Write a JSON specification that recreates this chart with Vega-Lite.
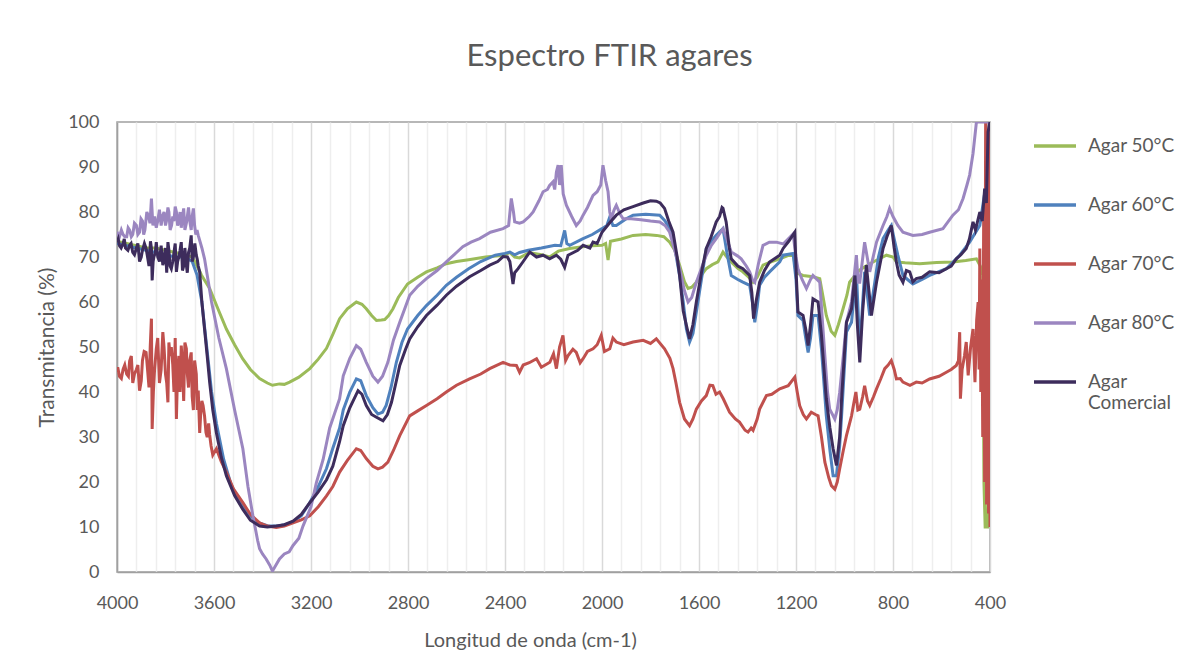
{
"$schema": "https://vega.github.io/schema/vega-lite/v6.json",
"width": 873, "height": 450,
"autosize": "none",
"padding": {"left": 117, "top": 122, "right": 201, "bottom": 88},
"background": "white",
"title": {"text": "Espectro FTIR agares", "font": "Lato", "fontSize": 31, "fontWeight": "normal", "color": "#595959", "anchor": "middle", "dx": 56, "offset": 40},
"config": {"view": {"stroke": "#A0A0A0", "strokeWidth": 1.5}},
"datasets": {"d": [
{"s":"Agar 50°C","w":4000,"t":73.5},{"s":"Agar 50°C","w":3960,"t":73},{"s":"Agar 50°C","w":3920,"t":72.5},{"s":"Agar 50°C","w":3880,"t":72},{"s":"Agar 50°C","w":3840,"t":72},{"s":"Agar 50°C","w":3800,"t":71.5},{"s":"Agar 50°C","w":3760,"t":71},{"s":"Agar 50°C","w":3720,"t":70.5},{"s":"Agar 50°C","w":3690,"t":70},{"s":"Agar 50°C","w":3670,"t":68},{"s":"Agar 50°C","w":3652,"t":66},{"s":"Agar 50°C","w":3618,"t":63},{"s":"Agar 50°C","w":3580,"t":58},{"s":"Agar 50°C","w":3549,"t":54},{"s":"Agar 50°C","w":3515,"t":50.5},{"s":"Agar 50°C","w":3482,"t":47.4},{"s":"Agar 50°C","w":3450,"t":45},{"s":"Agar 50°C","w":3412,"t":43},{"s":"Agar 50°C","w":3380,"t":42},{"s":"Agar 50°C","w":3359,"t":41.5},{"s":"Agar 50°C","w":3330,"t":41.8},{"s":"Agar 50°C","w":3310,"t":41.7},{"s":"Agar 50°C","w":3288,"t":42.2},{"s":"Agar 50°C","w":3250,"t":43.3},{"s":"Agar 50°C","w":3205,"t":45.2},{"s":"Agar 50°C","w":3170,"t":47.3},{"s":"Agar 50°C","w":3136,"t":49.7},{"s":"Agar 50°C","w":3110,"t":52.8},{"s":"Agar 50°C","w":3082,"t":56.3},{"s":"Agar 50°C","w":3050,"t":58.5},{"s":"Agar 50°C","w":3013,"t":60},{"s":"Agar 50°C","w":2990,"t":59.5},{"s":"Agar 50°C","w":2972,"t":58.5},{"s":"Agar 50°C","w":2950,"t":57},{"s":"Agar 50°C","w":2930,"t":55.9},{"s":"Agar 50°C","w":2910,"t":56},{"s":"Agar 50°C","w":2896,"t":56.1},{"s":"Agar 50°C","w":2880,"t":57},{"s":"Agar 50°C","w":2862,"t":58.5},{"s":"Agar 50°C","w":2840,"t":61},{"s":"Agar 50°C","w":2802,"t":64},{"s":"Agar 50°C","w":2760,"t":65.5},{"s":"Agar 50°C","w":2724,"t":66.7},{"s":"Agar 50°C","w":2680,"t":67.6},{"s":"Agar 50°C","w":2642,"t":68.5},{"s":"Agar 50°C","w":2600,"t":69},{"s":"Agar 50°C","w":2550,"t":69.4},{"s":"Agar 50°C","w":2480,"t":70},{"s":"Agar 50°C","w":2404,"t":70.4},{"s":"Agar 50°C","w":2380,"t":71},{"s":"Agar 50°C","w":2360,"t":70},{"s":"Agar 50°C","w":2340,"t":69.8},{"s":"Agar 50°C","w":2300,"t":71},{"s":"Agar 50°C","w":2250,"t":70.5},{"s":"Agar 50°C","w":2216,"t":70},{"s":"Agar 50°C","w":2180,"t":71.3},{"s":"Agar 50°C","w":2133,"t":71.9},{"s":"Agar 50°C","w":2080,"t":72.3},{"s":"Agar 50°C","w":2040,"t":72.5},{"s":"Agar 50°C","w":2000,"t":72.6},{"s":"Agar 50°C","w":1985,"t":73},{"s":"Agar 50°C","w":1975,"t":69.3},{"s":"Agar 50°C","w":1965,"t":73.5},{"s":"Agar 50°C","w":1920,"t":74},{"s":"Agar 50°C","w":1872,"t":74.8},{"s":"Agar 50°C","w":1820,"t":75},{"s":"Agar 50°C","w":1775,"t":74.8},{"s":"Agar 50°C","w":1745,"t":74.5},{"s":"Agar 50°C","w":1721,"t":73.3},{"s":"Agar 50°C","w":1700,"t":71.5},{"s":"Agar 50°C","w":1680,"t":68.2},{"s":"Agar 50°C","w":1660,"t":64.5},{"s":"Agar 50°C","w":1645,"t":63},{"s":"Agar 50°C","w":1630,"t":63.3},{"s":"Agar 50°C","w":1611,"t":64.4},{"s":"Agar 50°C","w":1590,"t":66},{"s":"Agar 50°C","w":1570,"t":67.4},{"s":"Agar 50°C","w":1545,"t":68.3},{"s":"Agar 50°C","w":1522,"t":68.9},{"s":"Agar 50°C","w":1501,"t":71.1},{"s":"Agar 50°C","w":1485,"t":70},{"s":"Agar 50°C","w":1467,"t":68.9},{"s":"Agar 50°C","w":1440,"t":67.5},{"s":"Agar 50°C","w":1419,"t":66.7},{"s":"Agar 50°C","w":1395,"t":65.5},{"s":"Agar 50°C","w":1377,"t":64.4},{"s":"Agar 50°C","w":1360,"t":65.5},{"s":"Agar 50°C","w":1336,"t":68.2},{"s":"Agar 50°C","w":1300,"t":69},{"s":"Agar 50°C","w":1267,"t":69.6},{"s":"Agar 50°C","w":1228,"t":70.4},{"s":"Agar 50°C","w":1210,"t":70.3},{"s":"Agar 50°C","w":1200,"t":66.5},{"s":"Agar 50°C","w":1171,"t":65.9},{"s":"Agar 50°C","w":1130,"t":65.6},{"s":"Agar 50°C","w":1102,"t":65.2},{"s":"Agar 50°C","w":1088,"t":61},{"s":"Agar 50°C","w":1075,"t":57},{"s":"Agar 50°C","w":1055,"t":53.5},{"s":"Agar 50°C","w":1040,"t":52.6},{"s":"Agar 50°C","w":1025,"t":55},{"s":"Agar 50°C","w":1006,"t":58.5},{"s":"Agar 50°C","w":990,"t":61.5},{"s":"Agar 50°C","w":979,"t":64.4},{"s":"Agar 50°C","w":940,"t":67},{"s":"Agar 50°C","w":896,"t":68.5},{"s":"Agar 50°C","w":860,"t":69.5},{"s":"Agar 50°C","w":827,"t":70.4},{"s":"Agar 50°C","w":800,"t":70},{"s":"Agar 50°C","w":786,"t":68.9},{"s":"Agar 50°C","w":750,"t":68.7},{"s":"Agar 50°C","w":690,"t":68.5},{"s":"Agar 50°C","w":620,"t":68.8},{"s":"Agar 50°C","w":553,"t":68.9},{"s":"Agar 50°C","w":500,"t":69.2},{"s":"Agar 50°C","w":456,"t":69.6},{"s":"Agar 50°C","w":440,"t":68},{"s":"Agar 50°C","w":430,"t":66},{"s":"Agar 50°C","w":425,"t":20},{"s":"Agar 50°C","w":420,"t":10},{"s":"Agar 50°C","w":410,"t":10},{"s":"Agar 50°C","w":405,"t":60},{"s":"Agar 50°C","w":400,"t":68},

{"s":"Agar 60°C","w":4000,"t":73},{"s":"Agar 60°C","w":3960,"t":72.5},{"s":"Agar 60°C","w":3920,"t":72},{"s":"Agar 60°C","w":3880,"t":71.5},{"s":"Agar 60°C","w":3840,"t":71},{"s":"Agar 60°C","w":3800,"t":70.5},{"s":"Agar 60°C","w":3760,"t":70},{"s":"Agar 60°C","w":3720,"t":70},{"s":"Agar 60°C","w":3690,"t":69},{"s":"Agar 60°C","w":3670,"t":66},{"s":"Agar 60°C","w":3650,"t":60},{"s":"Agar 60°C","w":3630,"t":50},{"s":"Agar 60°C","w":3610,"t":40},{"s":"Agar 60°C","w":3590,"t":33},{"s":"Agar 60°C","w":3560,"t":25},{"s":"Agar 60°C","w":3530,"t":19.5},{"s":"Agar 60°C","w":3500,"t":16},{"s":"Agar 60°C","w":3460,"t":13},{"s":"Agar 60°C","w":3420,"t":11},{"s":"Agar 60°C","w":3380,"t":10.3},{"s":"Agar 60°C","w":3340,"t":10.2},{"s":"Agar 60°C","w":3300,"t":10.6},{"s":"Agar 60°C","w":3270,"t":11.3},{"s":"Agar 60°C","w":3240,"t":12.5},{"s":"Agar 60°C","w":3205,"t":15.4},{"s":"Agar 60°C","w":3170,"t":19},{"s":"Agar 60°C","w":3136,"t":23},{"s":"Agar 60°C","w":3110,"t":27.5},{"s":"Agar 60°C","w":3082,"t":32},{"s":"Agar 60°C","w":3067,"t":36},{"s":"Agar 60°C","w":3040,"t":40},{"s":"Agar 60°C","w":3013,"t":42.9},{"s":"Agar 60°C","w":2995,"t":42.5},{"s":"Agar 60°C","w":2972,"t":39.2},{"s":"Agar 60°C","w":2945,"t":36.5},{"s":"Agar 60°C","w":2924,"t":35.1},{"s":"Agar 60°C","w":2905,"t":35.5},{"s":"Agar 60°C","w":2890,"t":37},{"s":"Agar 60°C","w":2870,"t":41},{"s":"Agar 60°C","w":2848,"t":46.6},{"s":"Agar 60°C","w":2825,"t":51},{"s":"Agar 60°C","w":2802,"t":54},{"s":"Agar 60°C","w":2760,"t":57},{"s":"Agar 60°C","w":2724,"t":59.2},{"s":"Agar 60°C","w":2680,"t":61.5},{"s":"Agar 60°C","w":2642,"t":63.7},{"s":"Agar 60°C","w":2600,"t":65.5},{"s":"Agar 60°C","w":2550,"t":67.4},{"s":"Agar 60°C","w":2500,"t":69},{"s":"Agar 60°C","w":2440,"t":70.4},{"s":"Agar 60°C","w":2400,"t":70.8},{"s":"Agar 60°C","w":2380,"t":71.1},{"s":"Agar 60°C","w":2360,"t":70.5},{"s":"Agar 60°C","w":2340,"t":71},{"s":"Agar 60°C","w":2304,"t":71.5},{"s":"Agar 60°C","w":2250,"t":72},{"s":"Agar 60°C","w":2194,"t":72.6},{"s":"Agar 60°C","w":2170,"t":72.5},{"s":"Agar 60°C","w":2154,"t":75.9},{"s":"Agar 60°C","w":2145,"t":73},{"s":"Agar 60°C","w":2133,"t":72.6},{"s":"Agar 60°C","w":2078,"t":74.1},{"s":"Agar 60°C","w":2040,"t":75},{"s":"Agar 60°C","w":2000,"t":76.3},{"s":"Agar 60°C","w":1980,"t":77},{"s":"Agar 60°C","w":1968,"t":78.9},{"s":"Agar 60°C","w":1955,"t":77},{"s":"Agar 60°C","w":1941,"t":77},{"s":"Agar 60°C","w":1900,"t":78.5},{"s":"Agar 60°C","w":1872,"t":79.3},{"s":"Agar 60°C","w":1820,"t":79.5},{"s":"Agar 60°C","w":1762,"t":79.3},{"s":"Agar 60°C","w":1740,"t":78},{"s":"Agar 60°C","w":1721,"t":76.3},{"s":"Agar 60°C","w":1700,"t":72},{"s":"Agar 60°C","w":1680,"t":65.9},{"s":"Agar 60°C","w":1665,"t":60},{"s":"Agar 60°C","w":1652,"t":54},{"s":"Agar 60°C","w":1639,"t":51.1},{"s":"Agar 60°C","w":1625,"t":53},{"s":"Agar 60°C","w":1611,"t":57.8},{"s":"Agar 60°C","w":1590,"t":65},{"s":"Agar 60°C","w":1570,"t":71.9},{"s":"Agar 60°C","w":1550,"t":73.5},{"s":"Agar 60°C","w":1529,"t":74.8},{"s":"Agar 60°C","w":1501,"t":76.3},{"s":"Agar 60°C","w":1485,"t":71},{"s":"Agar 60°C","w":1467,"t":65.9},{"s":"Agar 60°C","w":1440,"t":65},{"s":"Agar 60°C","w":1419,"t":64.4},{"s":"Agar 60°C","w":1391,"t":63.7},{"s":"Agar 60°C","w":1380,"t":60},{"s":"Agar 60°C","w":1370,"t":55.5},{"s":"Agar 60°C","w":1360,"t":59},{"s":"Agar 60°C","w":1350,"t":63.7},{"s":"Agar 60°C","w":1330,"t":65.5},{"s":"Agar 60°C","w":1309,"t":66.7},{"s":"Agar 60°C","w":1267,"t":68.9},{"s":"Agar 60°C","w":1253,"t":70.4},{"s":"Agar 60°C","w":1212,"t":70.8},{"s":"Agar 60°C","w":1200,"t":65},{"s":"Agar 60°C","w":1192,"t":57},{"s":"Agar 60°C","w":1171,"t":55.9},{"s":"Agar 60°C","w":1160,"t":52},{"s":"Agar 60°C","w":1150,"t":48.8},{"s":"Agar 60°C","w":1140,"t":52},{"s":"Agar 60°C","w":1130,"t":57},{"s":"Agar 60°C","w":1109,"t":57},{"s":"Agar 60°C","w":1095,"t":49.6},{"s":"Agar 60°C","w":1075,"t":34.7},{"s":"Agar 60°C","w":1060,"t":27},{"s":"Agar 60°C","w":1047,"t":21.4},{"s":"Agar 60°C","w":1033,"t":21.4},{"s":"Agar 60°C","w":1020,"t":28},{"s":"Agar 60°C","w":1012,"t":34.7},{"s":"Agar 60°C","w":992,"t":53.3},{"s":"Agar 60°C","w":971,"t":55.5},{"s":"Agar 60°C","w":951,"t":66.7},{"s":"Agar 60°C","w":937,"t":49.6},{"s":"Agar 60°C","w":917,"t":66.7},{"s":"Agar 60°C","w":896,"t":57},{"s":"Agar 60°C","w":875,"t":64.4},{"s":"Agar 60°C","w":860,"t":70},{"s":"Agar 60°C","w":841,"t":74.1},{"s":"Agar 60°C","w":820,"t":76},{"s":"Agar 60°C","w":807,"t":77},{"s":"Agar 60°C","w":795,"t":74},{"s":"Agar 60°C","w":780,"t":70.4},{"s":"Agar 60°C","w":759,"t":65.9},{"s":"Agar 60°C","w":740,"t":65},{"s":"Agar 60°C","w":718,"t":64},{"s":"Agar 60°C","w":680,"t":65},{"s":"Agar 60°C","w":649,"t":65.9},{"s":"Agar 60°C","w":580,"t":67.4},{"s":"Agar 60°C","w":525,"t":70.4},{"s":"Agar 60°C","w":484,"t":73.3},{"s":"Agar 60°C","w":442,"t":77},{"s":"Agar 60°C","w":415,"t":86.7},{"s":"Agar 60°C","w":403,"t":100},{"s":"Agar 60°C","w":400,"t":100},

{"s":"Agar 70°C","w":4000,"t":44.4},{"s":"Agar 70°C","w":3990,"t":43.5},{"s":"Agar 70°C","w":3975,"t":45},{"s":"Agar 70°C","w":3960,"t":44},{"s":"Agar 70°C","w":3948,"t":46.9},{"s":"Agar 70°C","w":3935,"t":42},{"s":"Agar 70°C","w":3920,"t":45},{"s":"Agar 70°C","w":3907,"t":40.3},{"s":"Agar 70°C","w":3895,"t":47},{"s":"Agar 70°C","w":3880,"t":48.8},{"s":"Agar 70°C","w":3868,"t":41},{"s":"Agar 70°C","w":3858,"t":56.3},{"s":"Agar 70°C","w":3855,"t":31.8},{"s":"Agar 70°C","w":3845,"t":45},{"s":"Agar 70°C","w":3838,"t":49.6},{"s":"Agar 70°C","w":3825,"t":42},{"s":"Agar 70°C","w":3811,"t":53.3},{"s":"Agar 70°C","w":3800,"t":44},{"s":"Agar 70°C","w":3790,"t":37.7},{"s":"Agar 70°C","w":3781,"t":48},{"s":"Agar 70°C","w":3776,"t":50},{"s":"Agar 70°C","w":3765,"t":40},{"s":"Agar 70°C","w":3755,"t":34},{"s":"Agar 70°C","w":3745,"t":48},{"s":"Agar 70°C","w":3735,"t":50.3},{"s":"Agar 70°C","w":3725,"t":38},{"s":"Agar 70°C","w":3714,"t":49.6},{"s":"Agar 70°C","w":3705,"t":41},{"s":"Agar 70°C","w":3694,"t":48.8},{"s":"Agar 70°C","w":3685,"t":36},{"s":"Agar 70°C","w":3673,"t":44},{"s":"Agar 70°C","w":3665,"t":40.3},{"s":"Agar 70°C","w":3659,"t":30.9},{"s":"Agar 70°C","w":3650,"t":38},{"s":"Agar 70°C","w":3639,"t":34.7},{"s":"Agar 70°C","w":3628,"t":30},{"s":"Agar 70°C","w":3618,"t":30.5},{"s":"Agar 70°C","w":3605,"t":26},{"s":"Agar 70°C","w":3590,"t":27.4},{"s":"Agar 70°C","w":3570,"t":24.5},{"s":"Agar 70°C","w":3549,"t":22.2},{"s":"Agar 70°C","w":3520,"t":18.5},{"s":"Agar 70°C","w":3481,"t":15.4},{"s":"Agar 70°C","w":3450,"t":12.8},{"s":"Agar 70°C","w":3412,"t":10.9},{"s":"Agar 70°C","w":3380,"t":10.2},{"s":"Agar 70°C","w":3343,"t":9.9},{"s":"Agar 70°C","w":3310,"t":10.2},{"s":"Agar 70°C","w":3274,"t":10.9},{"s":"Agar 70°C","w":3240,"t":11.6},{"s":"Agar 70°C","w":3205,"t":12.5},{"s":"Agar 70°C","w":3170,"t":14.5},{"s":"Agar 70°C","w":3136,"t":16.9},{"s":"Agar 70°C","w":3110,"t":19},{"s":"Agar 70°C","w":3082,"t":22.2},{"s":"Agar 70°C","w":3050,"t":24.8},{"s":"Agar 70°C","w":3013,"t":27.4},{"s":"Agar 70°C","w":2995,"t":27},{"s":"Agar 70°C","w":2972,"t":25.2},{"s":"Agar 70°C","w":2945,"t":23.5},{"s":"Agar 70°C","w":2924,"t":22.9},{"s":"Agar 70°C","w":2905,"t":23.3},{"s":"Agar 70°C","w":2883,"t":24.4},{"s":"Agar 70°C","w":2860,"t":27},{"s":"Agar 70°C","w":2834,"t":30.3},{"s":"Agar 70°C","w":2793,"t":34.7},{"s":"Agar 70°C","w":2760,"t":35.8},{"s":"Agar 70°C","w":2724,"t":37},{"s":"Agar 70°C","w":2680,"t":38.5},{"s":"Agar 70°C","w":2642,"t":40},{"s":"Agar 70°C","w":2600,"t":41.5},{"s":"Agar 70°C","w":2546,"t":42.9},{"s":"Agar 70°C","w":2500,"t":44},{"s":"Agar 70°C","w":2463,"t":45.2},{"s":"Agar 70°C","w":2408,"t":46.6},{"s":"Agar 70°C","w":2380,"t":46},{"s":"Agar 70°C","w":2353,"t":45.9},{"s":"Agar 70°C","w":2340,"t":44.4},{"s":"Agar 70°C","w":2325,"t":46},{"s":"Agar 70°C","w":2300,"t":46.5},{"s":"Agar 70°C","w":2270,"t":47.4},{"s":"Agar 70°C","w":2250,"t":45.5},{"s":"Agar 70°C","w":2215,"t":46.6},{"s":"Agar 70°C","w":2200,"t":48.5},{"s":"Agar 70°C","w":2188,"t":45.2},{"s":"Agar 70°C","w":2175,"t":50},{"s":"Agar 70°C","w":2161,"t":52.6},{"s":"Agar 70°C","w":2150,"t":47},{"s":"Agar 70°C","w":2140,"t":48.1},{"s":"Agar 70°C","w":2120,"t":49.5},{"s":"Agar 70°C","w":2106,"t":48.8},{"s":"Agar 70°C","w":2090,"t":46.5},{"s":"Agar 70°C","w":2078,"t":47.4},{"s":"Agar 70°C","w":2060,"t":49},{"s":"Agar 70°C","w":2037,"t":49.6},{"s":"Agar 70°C","w":2020,"t":50.5},{"s":"Agar 70°C","w":2003,"t":52.6},{"s":"Agar 70°C","w":1990,"t":49},{"s":"Agar 70°C","w":1968,"t":49.6},{"s":"Agar 70°C","w":1955,"t":52},{"s":"Agar 70°C","w":1941,"t":51.1},{"s":"Agar 70°C","w":1910,"t":50.5},{"s":"Agar 70°C","w":1872,"t":51.1},{"s":"Agar 70°C","w":1830,"t":51.5},{"s":"Agar 70°C","w":1800,"t":50.8},{"s":"Agar 70°C","w":1776,"t":51.8},{"s":"Agar 70°C","w":1742,"t":49.6},{"s":"Agar 70°C","w":1720,"t":47.5},{"s":"Agar 70°C","w":1707,"t":45.2},{"s":"Agar 70°C","w":1695,"t":42},{"s":"Agar 70°C","w":1680,"t":37.7},{"s":"Agar 70°C","w":1660,"t":34},{"s":"Agar 70°C","w":1639,"t":32.5},{"s":"Agar 70°C","w":1625,"t":34},{"s":"Agar 70°C","w":1611,"t":36.2},{"s":"Agar 70°C","w":1590,"t":38},{"s":"Agar 70°C","w":1570,"t":39.2},{"s":"Agar 70°C","w":1555,"t":41.5},{"s":"Agar 70°C","w":1543,"t":41.4},{"s":"Agar 70°C","w":1530,"t":39.5},{"s":"Agar 70°C","w":1515,"t":40},{"s":"Agar 70°C","w":1500,"t":38.5},{"s":"Agar 70°C","w":1474,"t":35.5},{"s":"Agar 70°C","w":1450,"t":34},{"s":"Agar 70°C","w":1433,"t":33.3},{"s":"Agar 70°C","w":1410,"t":31.5},{"s":"Agar 70°C","w":1398,"t":31.1},{"s":"Agar 70°C","w":1385,"t":32},{"s":"Agar 70°C","w":1377,"t":31.5},{"s":"Agar 70°C","w":1360,"t":34},{"s":"Agar 70°C","w":1350,"t":36.2},{"s":"Agar 70°C","w":1322,"t":39.2},{"s":"Agar 70°C","w":1300,"t":39.5},{"s":"Agar 70°C","w":1267,"t":40.7},{"s":"Agar 70°C","w":1232,"t":41.4},{"s":"Agar 70°C","w":1205,"t":43.3},{"s":"Agar 70°C","w":1195,"t":40},{"s":"Agar 70°C","w":1185,"t":37},{"s":"Agar 70°C","w":1170,"t":35},{"s":"Agar 70°C","w":1157,"t":34},{"s":"Agar 70°C","w":1137,"t":35.5},{"s":"Agar 70°C","w":1120,"t":35},{"s":"Agar 70°C","w":1109,"t":34.7},{"s":"Agar 70°C","w":1095,"t":30},{"s":"Agar 70°C","w":1081,"t":24.4},{"s":"Agar 70°C","w":1065,"t":21},{"s":"Agar 70°C","w":1054,"t":19.2},{"s":"Agar 70°C","w":1040,"t":18.4},{"s":"Agar 70°C","w":1030,"t":20},{"s":"Agar 70°C","w":1020,"t":22.9},{"s":"Agar 70°C","w":1005,"t":27},{"s":"Agar 70°C","w":992,"t":30.3},{"s":"Agar 70°C","w":971,"t":34.7},{"s":"Agar 70°C","w":960,"t":38},{"s":"Agar 70°C","w":953,"t":40},{"s":"Agar 70°C","w":945,"t":36},{"s":"Agar 70°C","w":937,"t":36.2},{"s":"Agar 70°C","w":925,"t":39},{"s":"Agar 70°C","w":917,"t":41.4},{"s":"Agar 70°C","w":905,"t":38},{"s":"Agar 70°C","w":896,"t":37},{"s":"Agar 70°C","w":880,"t":39},{"s":"Agar 70°C","w":868,"t":40.7},{"s":"Agar 70°C","w":850,"t":43},{"s":"Agar 70°C","w":834,"t":45.2},{"s":"Agar 70°C","w":820,"t":46},{"s":"Agar 70°C","w":807,"t":47},{"s":"Agar 70°C","w":795,"t":45},{"s":"Agar 70°C","w":786,"t":42.9},{"s":"Agar 70°C","w":770,"t":43},{"s":"Agar 70°C","w":759,"t":42.2},{"s":"Agar 70°C","w":730,"t":41.5},{"s":"Agar 70°C","w":704,"t":42.2},{"s":"Agar 70°C","w":680,"t":42},{"s":"Agar 70°C","w":649,"t":42.9},{"s":"Agar 70°C","w":610,"t":43.5},{"s":"Agar 70°C","w":580,"t":44.4},{"s":"Agar 70°C","w":560,"t":45},{"s":"Agar 70°C","w":539,"t":45.9},{"s":"Agar 70°C","w":530,"t":47},{"s":"Agar 70°C","w":525,"t":53.3},{"s":"Agar 70°C","w":522,"t":38.5},{"s":"Agar 70°C","w":515,"t":45},{"s":"Agar 70°C","w":505,"t":48.1},{"s":"Agar 70°C","w":498,"t":51.1},{"s":"Agar 70°C","w":490,"t":43.7},{"s":"Agar 70°C","w":480,"t":50},{"s":"Agar 70°C","w":470,"t":54},{"s":"Agar 70°C","w":462,"t":42.2},{"s":"Agar 70°C","w":455,"t":56},{"s":"Agar 70°C","w":449,"t":60},{"s":"Agar 70°C","w":445,"t":45},{"s":"Agar 70°C","w":442,"t":71.9},{"s":"Agar 70°C","w":438,"t":40},{"s":"Agar 70°C","w":434,"t":65},{"s":"Agar 70°C","w":430,"t":30},{"s":"Agar 70°C","w":426,"t":80},{"s":"Agar 70°C","w":422,"t":20},{"s":"Agar 70°C","w":418,"t":100},{"s":"Agar 70°C","w":414,"t":15},{"s":"Agar 70°C","w":410,"t":90},{"s":"Agar 70°C","w":406,"t":13},{"s":"Agar 70°C","w":403,"t":100},{"s":"Agar 70°C","w":400,"t":10},
{"s":"Agar 70°C","w":3997,"t":45.5},{"s":"Agar 70°C","w":3982,"t":43},{"s":"Agar 70°C","w":3968,"t":46},{"s":"Agar 70°C","w":3953,"t":43.5},{"s":"Agar 70°C","w":3941,"t":48},{"s":"Agar 70°C","w":3928,"t":44},{"s":"Agar 70°C","w":3914,"t":46},{"s":"Agar 70°C","w":3900,"t":42.5},{"s":"Agar 70°C","w":3888,"t":49},{"s":"Agar 70°C","w":3874,"t":45},{"s":"Agar 70°C","w":3863,"t":50},{"s":"Agar 70°C","w":3850,"t":40},{"s":"Agar 70°C","w":3832,"t":52},{"s":"Agar 70°C","w":3818,"t":45},{"s":"Agar 70°C","w":3806,"t":50},{"s":"Agar 70°C","w":3795,"t":42},{"s":"Agar 70°C","w":3786,"t":51},{"s":"Agar 70°C","w":3770,"t":46},{"s":"Agar 70°C","w":3760,"t":52},{"s":"Agar 70°C","w":3750,"t":45},{"s":"Agar 70°C","w":3740,"t":40},{"s":"Agar 70°C","w":3730,"t":46},{"s":"Agar 70°C","w":3720,"t":51},{"s":"Agar 70°C","w":3710,"t":44},{"s":"Agar 70°C","w":3700,"t":47},{"s":"Agar 70°C","w":3690,"t":39},{"s":"Agar 70°C","w":3680,"t":47},{"s":"Agar 70°C","w":3669,"t":36},{"s":"Agar 70°C","w":3655,"t":35},{"s":"Agar 70°C","w":3645,"t":37},{"s":"Agar 70°C","w":3633,"t":31},{"s":"Agar 70°C","w":3622,"t":33},{"s":"Agar 70°C","w":3612,"t":28},

{"s":"Agar 80°C","w":4000,"t":75.6},{"s":"Agar 80°C","w":3990,"t":74.5},{"s":"Agar 80°C","w":3975,"t":75},{"s":"Agar 80°C","w":3960,"t":74.5},{"s":"Agar 80°C","w":3948,"t":76},{"s":"Agar 80°C","w":3935,"t":75},{"s":"Agar 80°C","w":3920,"t":77},{"s":"Agar 80°C","w":3907,"t":75.5},{"s":"Agar 80°C","w":3895,"t":78},{"s":"Agar 80°C","w":3885,"t":76},{"s":"Agar 80°C","w":3870,"t":79},{"s":"Agar 80°C","w":3858,"t":83},{"s":"Agar 80°C","w":3852,"t":77},{"s":"Agar 80°C","w":3845,"t":79},{"s":"Agar 80°C","w":3838,"t":76.5},{"s":"Agar 80°C","w":3825,"t":80.5},{"s":"Agar 80°C","w":3811,"t":79.3},{"s":"Agar 80°C","w":3800,"t":77},{"s":"Agar 80°C","w":3790,"t":81},{"s":"Agar 80°C","w":3781,"t":76},{"s":"Agar 80°C","w":3770,"t":79},{"s":"Agar 80°C","w":3760,"t":81.2},{"s":"Agar 80°C","w":3750,"t":77},{"s":"Agar 80°C","w":3740,"t":80},{"s":"Agar 80°C","w":3735,"t":76.5},{"s":"Agar 80°C","w":3725,"t":80.8},{"s":"Agar 80°C","w":3714,"t":77.5},{"s":"Agar 80°C","w":3705,"t":81},{"s":"Agar 80°C","w":3694,"t":76},{"s":"Agar 80°C","w":3685,"t":80.8},{"s":"Agar 80°C","w":3675,"t":75},{"s":"Agar 80°C","w":3665,"t":74.8},{"s":"Agar 80°C","w":3650,"t":72},{"s":"Agar 80°C","w":3639,"t":69.6},{"s":"Agar 80°C","w":3625,"t":65},{"s":"Agar 80°C","w":3610,"t":60},{"s":"Agar 80°C","w":3580,"t":52},{"s":"Agar 80°C","w":3549,"t":45.2},{"s":"Agar 80°C","w":3515,"t":36},{"s":"Agar 80°C","w":3481,"t":27.4},{"s":"Agar 80°C","w":3460,"t":19},{"s":"Agar 80°C","w":3440,"t":12.6},{"s":"Agar 80°C","w":3420,"t":7},{"s":"Agar 80°C","w":3412,"t":5.2},{"s":"Agar 80°C","w":3400,"t":4},{"s":"Agar 80°C","w":3385,"t":2.9},{"s":"Agar 80°C","w":3370,"t":1.5},{"s":"Agar 80°C","w":3359,"t":0.2},{"s":"Agar 80°C","w":3345,"t":1.5},{"s":"Agar 80°C","w":3330,"t":2.9},{"s":"Agar 80°C","w":3310,"t":4},{"s":"Agar 80°C","w":3290,"t":4.5},{"s":"Agar 80°C","w":3274,"t":5.9},{"s":"Agar 80°C","w":3250,"t":7.5},{"s":"Agar 80°C","w":3233,"t":10.2},{"s":"Agar 80°C","w":3200,"t":14.5},{"s":"Agar 80°C","w":3178,"t":19.8},{"s":"Agar 80°C","w":3150,"t":25},{"s":"Agar 80°C","w":3123,"t":32},{"s":"Agar 80°C","w":3082,"t":38.5},{"s":"Agar 80°C","w":3067,"t":43.6},{"s":"Agar 80°C","w":3040,"t":47.5},{"s":"Agar 80°C","w":3013,"t":50.3},{"s":"Agar 80°C","w":2995,"t":49.5},{"s":"Agar 80°C","w":2972,"t":46.6},{"s":"Agar 80°C","w":2945,"t":43.5},{"s":"Agar 80°C","w":2924,"t":42.2},{"s":"Agar 80°C","w":2905,"t":43.5},{"s":"Agar 80°C","w":2883,"t":46.6},{"s":"Agar 80°C","w":2860,"t":51.5},{"s":"Agar 80°C","w":2834,"t":55.5},{"s":"Agar 80°C","w":2793,"t":61.5},{"s":"Agar 80°C","w":2760,"t":63.5},{"s":"Agar 80°C","w":2724,"t":65.2},{"s":"Agar 80°C","w":2680,"t":67},{"s":"Agar 80°C","w":2642,"t":68.9},{"s":"Agar 80°C","w":2600,"t":71},{"s":"Agar 80°C","w":2574,"t":72.3},{"s":"Agar 80°C","w":2540,"t":73.3},{"s":"Agar 80°C","w":2505,"t":74.1},{"s":"Agar 80°C","w":2460,"t":75.5},{"s":"Agar 80°C","w":2408,"t":76.3},{"s":"Agar 80°C","w":2385,"t":77},{"s":"Agar 80°C","w":2374,"t":83},{"s":"Agar 80°C","w":2365,"t":80},{"s":"Agar 80°C","w":2360,"t":77.8},{"s":"Agar 80°C","w":2340,"t":77.5},{"s":"Agar 80°C","w":2325,"t":77.8},{"s":"Agar 80°C","w":2300,"t":79},{"s":"Agar 80°C","w":2284,"t":80},{"s":"Agar 80°C","w":2260,"t":82.5},{"s":"Agar 80°C","w":2243,"t":84.5},{"s":"Agar 80°C","w":2225,"t":85},{"s":"Agar 80°C","w":2216,"t":85.9},{"s":"Agar 80°C","w":2202,"t":86.7},{"s":"Agar 80°C","w":2195,"t":85},{"s":"Agar 80°C","w":2188,"t":88.9},{"s":"Agar 80°C","w":2181,"t":90.4},{"s":"Agar 80°C","w":2175,"t":86},{"s":"Agar 80°C","w":2168,"t":90.4},{"s":"Agar 80°C","w":2160,"t":84},{"s":"Agar 80°C","w":2147,"t":81.5},{"s":"Agar 80°C","w":2125,"t":79},{"s":"Agar 80°C","w":2106,"t":77},{"s":"Agar 80°C","w":2090,"t":78},{"s":"Agar 80°C","w":2078,"t":79.3},{"s":"Agar 80°C","w":2060,"t":81},{"s":"Agar 80°C","w":2037,"t":83.7},{"s":"Agar 80°C","w":2020,"t":84.5},{"s":"Agar 80°C","w":2005,"t":86},{"s":"Agar 80°C","w":1996,"t":90.4},{"s":"Agar 80°C","w":1985,"t":87},{"s":"Agar 80°C","w":1975,"t":84.5},{"s":"Agar 80°C","w":1968,"t":80},{"s":"Agar 80°C","w":1962,"t":78.5},{"s":"Agar 80°C","w":1950,"t":80.5},{"s":"Agar 80°C","w":1941,"t":81.5},{"s":"Agar 80°C","w":1925,"t":79.5},{"s":"Agar 80°C","w":1913,"t":78.5},{"s":"Agar 80°C","w":1880,"t":78.5},{"s":"Agar 80°C","w":1840,"t":78.3},{"s":"Agar 80°C","w":1800,"t":78},{"s":"Agar 80°C","w":1762,"t":77.8},{"s":"Agar 80°C","w":1740,"t":77},{"s":"Agar 80°C","w":1721,"t":75.5},{"s":"Agar 80°C","w":1700,"t":71.5},{"s":"Agar 80°C","w":1680,"t":67.4},{"s":"Agar 80°C","w":1660,"t":62.5},{"s":"Agar 80°C","w":1645,"t":60},{"s":"Agar 80°C","w":1630,"t":61},{"s":"Agar 80°C","w":1611,"t":64.4},{"s":"Agar 80°C","w":1590,"t":67.5},{"s":"Agar 80°C","w":1570,"t":70.4},{"s":"Agar 80°C","w":1550,"t":72.5},{"s":"Agar 80°C","w":1529,"t":74.1},{"s":"Agar 80°C","w":1501,"t":76.3},{"s":"Agar 80°C","w":1485,"t":74},{"s":"Agar 80°C","w":1467,"t":71.1},{"s":"Agar 80°C","w":1440,"t":70.2},{"s":"Agar 80°C","w":1426,"t":69.6},{"s":"Agar 80°C","w":1405,"t":68},{"s":"Agar 80°C","w":1391,"t":66.7},{"s":"Agar 80°C","w":1380,"t":65},{"s":"Agar 80°C","w":1370,"t":64.4},{"s":"Agar 80°C","w":1355,"t":68.5},{"s":"Agar 80°C","w":1336,"t":72.6},{"s":"Agar 80°C","w":1310,"t":73.3},{"s":"Agar 80°C","w":1281,"t":73.3},{"s":"Agar 80°C","w":1253,"t":72.9},{"s":"Agar 80°C","w":1212,"t":75.1},{"s":"Agar 80°C","w":1200,"t":70},{"s":"Agar 80°C","w":1192,"t":67.4},{"s":"Agar 80°C","w":1175,"t":65},{"s":"Agar 80°C","w":1157,"t":63},{"s":"Agar 80°C","w":1140,"t":65},{"s":"Agar 80°C","w":1130,"t":65.9},{"s":"Agar 80°C","w":1102,"t":64.4},{"s":"Agar 80°C","w":1090,"t":55},{"s":"Agar 80°C","w":1081,"t":48.1},{"s":"Agar 80°C","w":1070,"t":40},{"s":"Agar 80°C","w":1061,"t":36.2},{"s":"Agar 80°C","w":1040,"t":34},{"s":"Agar 80°C","w":1030,"t":36},{"s":"Agar 80°C","w":1020,"t":39.9},{"s":"Agar 80°C","w":1005,"t":48},{"s":"Agar 80°C","w":992,"t":55.5},{"s":"Agar 80°C","w":971,"t":60},{"s":"Agar 80°C","w":951,"t":70.4},{"s":"Agar 80°C","w":944,"t":64.4},{"s":"Agar 80°C","w":937,"t":64.4},{"s":"Agar 80°C","w":917,"t":73.3},{"s":"Agar 80°C","w":896,"t":66.7},{"s":"Agar 80°C","w":868,"t":73.3},{"s":"Agar 80°C","w":841,"t":77},{"s":"Agar 80°C","w":825,"t":79},{"s":"Agar 80°C","w":814,"t":80.8},{"s":"Agar 80°C","w":800,"t":79},{"s":"Agar 80°C","w":780,"t":77},{"s":"Agar 80°C","w":759,"t":75.5},{"s":"Agar 80°C","w":718,"t":74.8},{"s":"Agar 80°C","w":680,"t":75},{"s":"Agar 80°C","w":649,"t":75.5},{"s":"Agar 80°C","w":594,"t":76.3},{"s":"Agar 80°C","w":553,"t":79.3},{"s":"Agar 80°C","w":530,"t":80.5},{"s":"Agar 80°C","w":511,"t":83},{"s":"Agar 80°C","w":495,"t":86},{"s":"Agar 80°C","w":484,"t":88.2},{"s":"Agar 80°C","w":470,"t":93},{"s":"Agar 80°C","w":456,"t":100},{"s":"Agar 80°C","w":400,"t":100},
{"s":"Agar 80°C","w":3995,"t":75},{"s":"Agar 80°C","w":3982,"t":76},{"s":"Agar 80°C","w":3968,"t":74.5},{"s":"Agar 80°C","w":3954,"t":76.5},{"s":"Agar 80°C","w":3941,"t":74.5},{"s":"Agar 80°C","w":3928,"t":77.5},{"s":"Agar 80°C","w":3914,"t":75},{"s":"Agar 80°C","w":3901,"t":78.5},{"s":"Agar 80°C","w":3890,"t":75},{"s":"Agar 80°C","w":3877,"t":80},{"s":"Agar 80°C","w":3864,"t":77.5},{"s":"Agar 80°C","w":3832,"t":78},{"s":"Agar 80°C","w":3818,"t":77},{"s":"Agar 80°C","w":3806,"t":80},{"s":"Agar 80°C","w":3796,"t":78},{"s":"Agar 80°C","w":3786,"t":80},{"s":"Agar 80°C","w":3775,"t":77},{"s":"Agar 80°C","w":3765,"t":78},{"s":"Agar 80°C","w":3755,"t":80},{"s":"Agar 80°C","w":3745,"t":78},{"s":"Agar 80°C","w":3730,"t":79},{"s":"Agar 80°C","w":3720,"t":76},{"s":"Agar 80°C","w":3710,"t":79},{"s":"Agar 80°C","w":3700,"t":78},{"s":"Agar 80°C","w":3690,"t":79},{"s":"Agar 80°C","w":3680,"t":77},{"s":"Agar 80°C","w":3670,"t":76},

{"s":"Agar Comercial","w":4000,"t":73.3},{"s":"Agar Comercial","w":3990,"t":72.5},{"s":"Agar Comercial","w":3975,"t":73},{"s":"Agar Comercial","w":3965,"t":72},{"s":"Agar Comercial","w":3948,"t":72.6},{"s":"Agar Comercial","w":3935,"t":71},{"s":"Agar Comercial","w":3920,"t":72},{"s":"Agar Comercial","w":3907,"t":69},{"s":"Agar Comercial","w":3895,"t":71.5},{"s":"Agar Comercial","w":3880,"t":71.9},{"s":"Agar Comercial","w":3868,"t":68},{"s":"Agar Comercial","w":3858,"t":72},{"s":"Agar Comercial","w":3855,"t":64.8},{"s":"Agar Comercial","w":3848,"t":70},{"s":"Agar Comercial","w":3838,"t":73.3},{"s":"Agar Comercial","w":3825,"t":69},{"s":"Agar Comercial","w":3811,"t":68.2},{"s":"Agar Comercial","w":3800,"t":72},{"s":"Agar Comercial","w":3790,"t":73.3},{"s":"Agar Comercial","w":3781,"t":68},{"s":"Agar Comercial","w":3776,"t":67.4},{"s":"Agar Comercial","w":3765,"t":71},{"s":"Agar Comercial","w":3755,"t":66.7},{"s":"Agar Comercial","w":3745,"t":70},{"s":"Agar Comercial","w":3735,"t":73.3},{"s":"Agar Comercial","w":3725,"t":68},{"s":"Agar Comercial","w":3714,"t":68.2},{"s":"Agar Comercial","w":3705,"t":71},{"s":"Agar Comercial","w":3694,"t":74.8},{"s":"Agar Comercial","w":3685,"t":70},{"s":"Agar Comercial","w":3673,"t":70.4},{"s":"Agar Comercial","w":3665,"t":68},{"s":"Agar Comercial","w":3659,"t":66.7},{"s":"Agar Comercial","w":3650,"t":60},{"s":"Agar Comercial","w":3639,"t":54},{"s":"Agar Comercial","w":3628,"t":48},{"s":"Agar Comercial","w":3618,"t":42.2},{"s":"Agar Comercial","w":3605,"t":36},{"s":"Agar Comercial","w":3590,"t":30.9},{"s":"Agar Comercial","w":3570,"t":25.5},{"s":"Agar Comercial","w":3549,"t":21.4},{"s":"Agar Comercial","w":3515,"t":17},{"s":"Agar Comercial","w":3481,"t":13.9},{"s":"Agar Comercial","w":3450,"t":11.5},{"s":"Agar Comercial","w":3412,"t":10.2},{"s":"Agar Comercial","w":3380,"t":10},{"s":"Agar Comercial","w":3343,"t":10.2},{"s":"Agar Comercial","w":3310,"t":10.5},{"s":"Agar Comercial","w":3274,"t":11.3},{"s":"Agar Comercial","w":3240,"t":12.8},{"s":"Agar Comercial","w":3205,"t":15.4},{"s":"Agar Comercial","w":3170,"t":17.8},{"s":"Agar Comercial","w":3136,"t":20.5},{"s":"Agar Comercial","w":3110,"t":23.5},{"s":"Agar Comercial","w":3082,"t":29},{"s":"Agar Comercial","w":3067,"t":32.5},{"s":"Agar Comercial","w":3040,"t":36.5},{"s":"Agar Comercial","w":3006,"t":40.3},{"s":"Agar Comercial","w":2990,"t":39.5},{"s":"Agar Comercial","w":2972,"t":37},{"s":"Agar Comercial","w":2950,"t":35},{"s":"Agar Comercial","w":2930,"t":34.4},{"s":"Agar Comercial","w":2903,"t":33.6},{"s":"Agar Comercial","w":2885,"t":35},{"s":"Agar Comercial","w":2868,"t":37.7},{"s":"Agar Comercial","w":2850,"t":42},{"s":"Agar Comercial","w":2834,"t":45.9},{"s":"Agar Comercial","w":2810,"t":49.5},{"s":"Agar Comercial","w":2793,"t":51.8},{"s":"Agar Comercial","w":2760,"t":54.5},{"s":"Agar Comercial","w":2724,"t":57},{"s":"Agar Comercial","w":2680,"t":59.3},{"s":"Agar Comercial","w":2642,"t":61.5},{"s":"Agar Comercial","w":2600,"t":63.5},{"s":"Agar Comercial","w":2546,"t":65.6},{"s":"Agar Comercial","w":2500,"t":67},{"s":"Agar Comercial","w":2463,"t":68.2},{"s":"Agar Comercial","w":2430,"t":69},{"s":"Agar Comercial","w":2408,"t":70.1},{"s":"Agar Comercial","w":2390,"t":70},{"s":"Agar Comercial","w":2380,"t":69},{"s":"Agar Comercial","w":2372,"t":66},{"s":"Agar Comercial","w":2367,"t":64},{"s":"Agar Comercial","w":2360,"t":66.5},{"s":"Agar Comercial","w":2346,"t":67.4},{"s":"Agar Comercial","w":2325,"t":69},{"s":"Agar Comercial","w":2298,"t":71.1},{"s":"Agar Comercial","w":2270,"t":70},{"s":"Agar Comercial","w":2243,"t":70.4},{"s":"Agar Comercial","w":2216,"t":69.6},{"s":"Agar Comercial","w":2188,"t":70.4},{"s":"Agar Comercial","w":2170,"t":69.5},{"s":"Agar Comercial","w":2154,"t":67.7},{"s":"Agar Comercial","w":2140,"t":70.4},{"s":"Agar Comercial","w":2100,"t":71.5},{"s":"Agar Comercial","w":2078,"t":72.6},{"s":"Agar Comercial","w":2050,"t":72},{"s":"Agar Comercial","w":2037,"t":73.3},{"s":"Agar Comercial","w":2020,"t":73},{"s":"Agar Comercial","w":2000,"t":75.5},{"s":"Agar Comercial","w":1970,"t":77.5},{"s":"Agar Comercial","w":1941,"t":79.3},{"s":"Agar Comercial","w":1910,"t":80.5},{"s":"Agar Comercial","w":1872,"t":81.2},{"s":"Agar Comercial","w":1830,"t":82},{"s":"Agar Comercial","w":1800,"t":82.5},{"s":"Agar Comercial","w":1776,"t":82.4},{"s":"Agar Comercial","w":1760,"t":82},{"s":"Agar Comercial","w":1742,"t":80.8},{"s":"Agar Comercial","w":1725,"t":78},{"s":"Agar Comercial","w":1707,"t":75.5},{"s":"Agar Comercial","w":1690,"t":70},{"s":"Agar Comercial","w":1680,"t":65.9},{"s":"Agar Comercial","w":1665,"t":58},{"s":"Agar Comercial","w":1652,"t":54.8},{"s":"Agar Comercial","w":1639,"t":51.8},{"s":"Agar Comercial","w":1625,"t":55},{"s":"Agar Comercial","w":1611,"t":60},{"s":"Agar Comercial","w":1590,"t":66.5},{"s":"Agar Comercial","w":1570,"t":71.9},{"s":"Agar Comercial","w":1550,"t":74.5},{"s":"Agar Comercial","w":1529,"t":77.8},{"s":"Agar Comercial","w":1515,"t":79},{"s":"Agar Comercial","w":1505,"t":81},{"s":"Agar Comercial","w":1501,"t":80.8},{"s":"Agar Comercial","w":1488,"t":77.8},{"s":"Agar Comercial","w":1475,"t":72},{"s":"Agar Comercial","w":1467,"t":69.6},{"s":"Agar Comercial","w":1440,"t":68},{"s":"Agar Comercial","w":1419,"t":67.4},{"s":"Agar Comercial","w":1391,"t":65.9},{"s":"Agar Comercial","w":1382,"t":62},{"s":"Agar Comercial","w":1375,"t":56.3},{"s":"Agar Comercial","w":1365,"t":60},{"s":"Agar Comercial","w":1350,"t":64.4},{"s":"Agar Comercial","w":1330,"t":67},{"s":"Agar Comercial","w":1309,"t":68.9},{"s":"Agar Comercial","w":1267,"t":70.4},{"s":"Agar Comercial","w":1253,"t":71.9},{"s":"Agar Comercial","w":1230,"t":73.5},{"s":"Agar Comercial","w":1205,"t":75.5},{"s":"Agar Comercial","w":1198,"t":65},{"s":"Agar Comercial","w":1192,"t":57.8},{"s":"Agar Comercial","w":1171,"t":57},{"s":"Agar Comercial","w":1160,"t":54},{"s":"Agar Comercial","w":1150,"t":50.3},{"s":"Agar Comercial","w":1140,"t":55},{"s":"Agar Comercial","w":1130,"t":60.7},{"s":"Agar Comercial","w":1109,"t":60},{"s":"Agar Comercial","w":1095,"t":52.6},{"s":"Agar Comercial","w":1075,"t":38.5},{"s":"Agar Comercial","w":1060,"t":32},{"s":"Agar Comercial","w":1047,"t":27.4},{"s":"Agar Comercial","w":1033,"t":23.7},{"s":"Agar Comercial","w":1020,"t":30},{"s":"Agar Comercial","w":1012,"t":38.5},{"s":"Agar Comercial","w":992,"t":55.5},{"s":"Agar Comercial","w":971,"t":58.5},{"s":"Agar Comercial","w":957,"t":65.9},{"s":"Agar Comercial","w":947,"t":55},{"s":"Agar Comercial","w":937,"t":46.6},{"s":"Agar Comercial","w":925,"t":58},{"s":"Agar Comercial","w":910,"t":68.2},{"s":"Agar Comercial","w":889,"t":57},{"s":"Agar Comercial","w":868,"t":64.4},{"s":"Agar Comercial","w":855,"t":68},{"s":"Agar Comercial","w":841,"t":71.9},{"s":"Agar Comercial","w":825,"t":74.5},{"s":"Agar Comercial","w":807,"t":77},{"s":"Agar Comercial","w":795,"t":72},{"s":"Agar Comercial","w":786,"t":68.9},{"s":"Agar Comercial","w":775,"t":66},{"s":"Agar Comercial","w":759,"t":64.4},{"s":"Agar Comercial","w":745,"t":67},{"s":"Agar Comercial","w":731,"t":66.7},{"s":"Agar Comercial","w":718,"t":64.5},{"s":"Agar Comercial","w":704,"t":65.2},{"s":"Agar Comercial","w":680,"t":65.5},{"s":"Agar Comercial","w":649,"t":66.7},{"s":"Agar Comercial","w":610,"t":66.5},{"s":"Agar Comercial","w":580,"t":67.4},{"s":"Agar Comercial","w":560,"t":68},{"s":"Agar Comercial","w":539,"t":69.6},{"s":"Agar Comercial","w":520,"t":70.5},{"s":"Agar Comercial","w":498,"t":71.9},{"s":"Agar Comercial","w":485,"t":74},{"s":"Agar Comercial","w":470,"t":77.8},{"s":"Agar Comercial","w":460,"t":76},{"s":"Agar Comercial","w":442,"t":80},{"s":"Agar Comercial","w":432,"t":78},{"s":"Agar Comercial","w":422,"t":85.2},{"s":"Agar Comercial","w":415,"t":82},{"s":"Agar Comercial","w":408,"t":97.8},{"s":"Agar Comercial","w":400,"t":100},
{"s":"Agar Comercial","w":3995,"t":74},{"s":"Agar Comercial","w":3983,"t":72},{"s":"Agar Comercial","w":3970,"t":74},{"s":"Agar Comercial","w":3955,"t":71.5},{"s":"Agar Comercial","w":3942,"t":73},{"s":"Agar Comercial","w":3928,"t":70.5},{"s":"Agar Comercial","w":3914,"t":73},{"s":"Agar Comercial","w":3900,"t":70},{"s":"Agar Comercial","w":3887,"t":73},{"s":"Agar Comercial","w":3874,"t":70},{"s":"Agar Comercial","w":3862,"t":73.5},{"s":"Agar Comercial","w":3851,"t":69},{"s":"Agar Comercial","w":3842,"t":71},{"s":"Agar Comercial","w":3832,"t":70},{"s":"Agar Comercial","w":3818,"t":72.5},{"s":"Agar Comercial","w":3806,"t":69.5},{"s":"Agar Comercial","w":3795,"t":66.5},{"s":"Agar Comercial","w":3786,"t":71.5},{"s":"Agar Comercial","w":3770,"t":69},{"s":"Agar Comercial","w":3760,"t":73},{"s":"Agar Comercial","w":3750,"t":69},{"s":"Agar Comercial","w":3740,"t":71.5},{"s":"Agar Comercial","w":3730,"t":67},{"s":"Agar Comercial","w":3720,"t":72},{"s":"Agar Comercial","w":3710,"t":66.5},{"s":"Agar Comercial","w":3700,"t":72},{"s":"Agar Comercial","w":3690,"t":69},{"s":"Agar Comercial","w":3679,"t":73},{"s":"Agar Comercial","w":3669,"t":69.5}
]},
"data": {"name": "d"},
"mark": {"type": "line", "strokeWidth": 3, "clip": true, "interpolate": "linear"},
"encoding": {
"x": {"field": "w", "type": "quantitative",
 "scale": {"domain": [400, 4000], "reverse": true, "nice": false, "zero": false},
 "axis": {"title": "Longitud de onda (cm-1)",
  "values": [4000,3920,3840,3760,3680,3600,3520,3440,3360,3280,3200,3120,3040,2960,2880,2800,2720,2640,2560,2480,2400,2320,2240,2160,2080,2000,1920,1840,1760,1680,1600,1520,1440,1360,1280,1200,1120,1040,960,880,800,720,640,560,480,400],
  "format": "d",
  "labelExpr": "datum.value % 400 === 0 ? datum.label : ''",
  "labelOverlap": false, "labelFlush": false, "labelBound": false,
  "grid": true,
  "gridColor": {"condition": {"test": "datum.value % 400 === 0", "value": "#D9D9D9"}, "value": "#EEEEEE"},
  "gridWidth": 1.5,
  "ticks": false, "labelPadding": 22,
  "labelFont": "Lato", "labelFontSize": 18, "labelColor": "#595959",
  "domainColor": "#A0A0A0", "domainWidth": 1.5,
  "titleFont": "Lato", "titleFontSize": 20, "titleFontWeight": "normal", "titleColor": "#595959",
  "titleX": 413, "titleY": 68, "titleAlign": "center", "titleBaseline": "middle"}},
"y": {"field": "t", "type": "quantitative",
 "scale": {"domain": [0, 100], "nice": false, "zero": false},
 "axis": {"title": "Transmitancia (%)",
  "values": [0,10,20,30,40,50,60,70,80,90,100],
  "grid": false, "ticks": false, "labelPadding": 18,
  "labelFont": "Lato", "labelFontSize": 18, "labelColor": "#595959",
  "domainColor": "#A0A0A0", "domainWidth": 1.5,
  "titleFont": "Lato", "titleFontSize": 21, "titleFontWeight": "normal", "titleColor": "#595959",
  "titleX": -70, "titleY": 225, "titleAlign": "center", "titleBaseline": "middle", "titleAngle": -90}},
"color": {"field": "s", "type": "nominal",
 "scale": {"domain": ["Agar 50°C","Agar 60°C","Agar 70°C","Agar 80°C","Agar Comercial"], "range": ["#9BBB59","#4F81BD","#C0504D","#9B86C0","#3D2C5C"]},
 "legend": {"title": null, "orient": "none", "legendX": 915, "legendY": 1,
  "symbolType": "stroke", "symbolSize": 1764, "symbolStrokeWidth": 3.5,
  "labelFont": "Lato", "labelFontSize": 19, "labelColor": "#595959", "labelOffset": 10, "labelLimit": 200,
  "rowPadding": 26,
  "labelExpr": "datum.label == 'Agar Comercial' ? ['Agar', 'Comercial'] : datum.label"}}
}
}
